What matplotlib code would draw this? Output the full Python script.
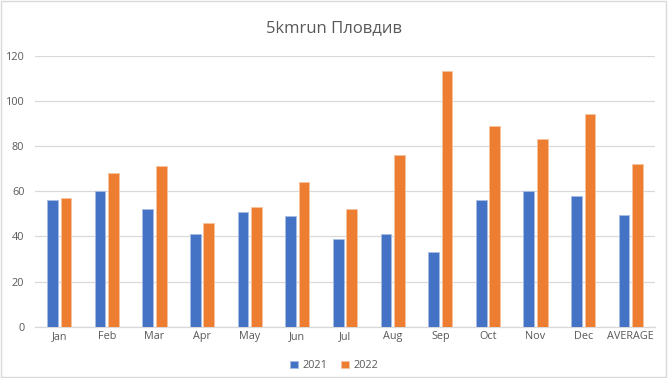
import matplotlib
matplotlib.use("Agg")
import matplotlib.pyplot as plt
import numpy as np
from matplotlib.patches import Rectangle

categories = ["Jan", "Feb", "Mar", "Apr", "May", "Jun", "Jul", "Aug", "Sep",
              "Oct", "Nov", "Dec", "AVERAGE"]
values_2021 = [56, 60, 52, 41, 51, 49, 39, 41, 33, 56, 60, 58, 49.67]
values_2022 = [57, 68, 71, 46, 53, 64, 52, 76, 113, 89, 83, 94, 72.17]
series_names = ["2021", "2022"]
yticks = [0, 20, 40, 60, 80, 100, 120]
title = "5kmrun Пловдив"

plt.rcParams['font.family'] = ['Open Sans', 'DejaVu Sans']
text_color = "#595959"
blue = "#4472C4"
orange = "#ED7D31"

fig = plt.figure(figsize=(6.68, 3.78), dpi=100)
ax = fig.add_axes([0.053, 0.1357, 0.927, 0.717])

x = np.arange(len(categories))
w = 0.225
off = 0.141
ax.bar(x - off, values_2021, width=w, color=blue, edgecolor="#A9BDE3",
       linewidth=0.6, label=series_names[0], zorder=3)
ax.bar(x + off, values_2022, width=w, color=orange, edgecolor="#F6C3A0",
       linewidth=0.6, label=series_names[1], zorder=3)

ax.set_xlim(-0.5, len(categories) - 0.5)
ax.set_ylim(0, 120)
ax.set_yticks(yticks)
ax.set_xticks(x)
ax.set_xticklabels(categories)
ax.tick_params(axis='both', length=0, labelsize=7.8, colors=text_color)
ax.tick_params(axis='x', pad=3)
ax.tick_params(axis='y', pad=8)
ax.grid(axis='y', color="#D9D9D9", linewidth=0.9, zorder=0)
for s in ["top", "right", "left"]:
    ax.spines[s].set_visible(False)
ax.spines["bottom"].set_color("#D9D9D9")
ax.spines["bottom"].set_linewidth(0.9)

fig.text(0.5, 0.925, title, ha='center', va='center', fontsize=12,
         color=text_color)

leg = fig.legend(loc='center', bbox_to_anchor=(0.5, 0.032), ncol=2,
                 frameon=False, fontsize=7.8, handlelength=0.7,
                 handleheight=0.7, columnspacing=1.3, handletextpad=0.4)
for t in leg.get_texts():
    t.set_color(text_color)

fig.patches.append(Rectangle((0.001, 0.002), 0.996, 0.995, transform=fig.transFigure,
                             fill=False, edgecolor="#D9D9D9", linewidth=1))

fig.savefig("out.png", dpi=100)
